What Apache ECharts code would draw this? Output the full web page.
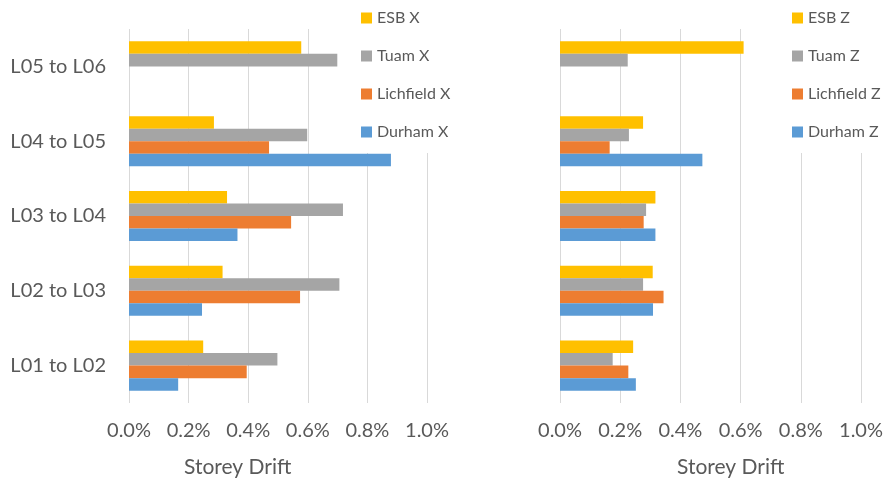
<!DOCTYPE html>
<html>
<head>
<meta charset="utf-8">
<script src="https://cdn.jsdelivr.net/npm/echarts@6/dist/echarts.min.js"></script>
<style>
  html, body { margin: 0; padding: 0; background: #ffffff; }
  #chart { width: 888px; height: 486px; }
</style>
</head>
<body>
<div id="chart"></div>
<script>
// Storey levels, bottom to top
const storeys = ['L01 to L02', 'L02 to L03', 'L03 to L04', 'L04 to L05', 'L05 to L06'];
const xTicks = [0, 0.2, 0.4, 0.6, 0.8, 1.0];

// Storey drift (%) in the X direction
const esbX       = [0.249, 0.314, 0.329, 0.285, 0.578];
const tuamX      = [0.498, 0.706, 0.718, 0.598, 0.699];
const lichfieldX = [0.395, 0.574, 0.544, 0.470, null];
const durhamX    = [0.165, 0.245, 0.364, 0.879, null];

// Storey drift (%) in the Z direction
const esbZ       = [0.243, 0.308, 0.317, 0.276, 0.610];
const tuamZ      = [0.175, 0.276, 0.286, 0.229, 0.225];
const lichfieldZ = [0.227, 0.344, 0.278, 0.165, null];
const durhamZ    = [0.252, 0.309, 0.317, 0.473, null];

const COLORS = { esb: '#FFC000', tuam: '#A5A5A5', lichfield: '#ED7D31', durham: '#5B9BD5' };
const FONT = 'Lato';
const TEXT = '#595959';
const GRID = '#D9D9D9';

function valueAxis(gridIndex) {
  return {
    type: 'value', gridIndex: gridIndex,
    min: xTicks[0], max: xTicks[xTicks.length - 1], interval: 0.2,
    axisLine: { show: false }, axisTick: { show: false },
    splitLine: { show: true, lineStyle: { color: GRID, width: 1 } },
    axisLabel: {
      color: TEXT, fontFamily: FONT, fontSize: 20, margin: 18,
      formatter: v => v.toFixed(1) + '%'
    }
  };
}
function categoryAxis(gridIndex, showLabels) {
  return {
    type: 'category', gridIndex: gridIndex, data: storeys,
    axisLine: { show: false }, axisTick: { show: false },
    axisLabel: { show: showLabels, color: TEXT, fontFamily: FONT, fontSize: 20, margin: 23 }
  };
}
function bar(name, data, color, idx) {
  return {
    name: name, type: 'bar', data: data,
    xAxisIndex: idx, yAxisIndex: idx,
    barCategoryGap: '33%', barGap: '0%',
    itemStyle: { color: color },
    emphasis: { disabled: true }
  };
}
function legend(names, left) {
  return {
    data: names, orient: 'vertical', left: left, top: 0,
    padding: [10, 30, 13, 6], itemGap: 22,
    itemWidth: 11, itemHeight: 11, icon: 'rect',
    backgroundColor: '#ffffff', z: 10,
    textStyle: { color: TEXT, fontFamily: FONT, fontSize: 16, lineHeight: 16 }
  };
}

const chart = echarts.init(document.getElementById('chart'), null, { renderer: 'canvas' });
chart.setOption({
  animation: false,
  backgroundColor: '#ffffff',
  grid: [
    { left: 129, top: 29, width: 298, height: 374 },
    { left: 560, top: 29, width: 301, height: 374 }
  ],
  xAxis: [valueAxis(0), valueAxis(1)],
  yAxis: [categoryAxis(0, true), categoryAxis(1, false)],
  legend: [
    legend(['ESB X', 'Tuam X', 'Lichfield X', 'Durham X'], 355),
    legend(['ESB Z', 'Tuam Z', 'Lichfield Z', 'Durham Z'], 786)
  ],
  graphic: [
    { type: 'text', left: 237 - 53, top: 457,
      style: { text: 'Storey Drift', fill: TEXT, font: '21px ' + FONT } },
    { type: 'text', left: 730 - 53, top: 457,
      style: { text: 'Storey Drift', fill: TEXT, font: '21px ' + FONT } }
  ],
  // within each storey the first series sits on top
  series: [
    bar('ESB X', esbX, COLORS.esb, 0),
    bar('Tuam X', tuamX, COLORS.tuam, 0),
    bar('Lichfield X', lichfieldX, COLORS.lichfield, 0),
    bar('Durham X', durhamX, COLORS.durham, 0),
    bar('ESB Z', esbZ, COLORS.esb, 1),
    bar('Tuam Z', tuamZ, COLORS.tuam, 1),
    bar('Lichfield Z', lichfieldZ, COLORS.lichfield, 1),
    bar('Durham Z', durhamZ, COLORS.durham, 1)
  ]
});
</script>
</body>
</html>
